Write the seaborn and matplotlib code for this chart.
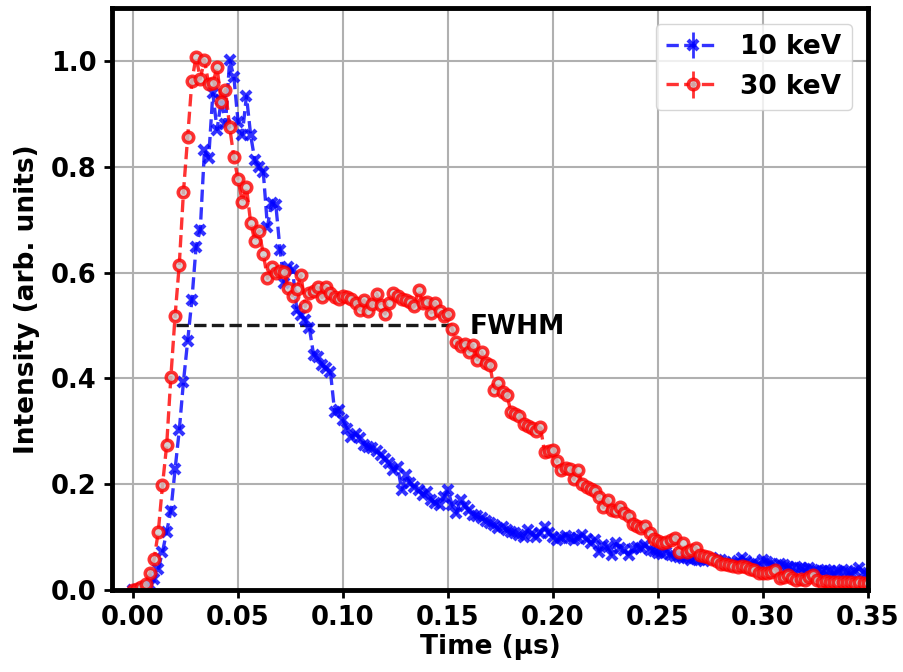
import numpy as np
import matplotlib
matplotlib.use("Agg")
import matplotlib.pyplot as plt
import seaborn as sns

# DATA ===========================================================================================================

time_step_us = 0.002  # sampling interval of the scope traces

intensity_10kev = [
    0.000, 0.000, 0.002, 0.004, 0.010, 0.020, 0.040, 0.072, 0.110, 0.150,
    0.228, 0.302, 0.394, 0.470, 0.548, 0.649, 0.681, 0.832, 0.816, 0.939,
    0.870, 0.926, 0.880, 1.002, 0.970, 0.885, 0.860, 0.934, 0.860, 0.812,
    0.800, 0.791, 0.687, 0.731, 0.728, 0.643, 0.580, 0.611, 0.605, 0.529,
    0.520, 0.510, 0.495, 0.444, 0.440, 0.425, 0.420, 0.413, 0.337, 0.340,
    0.321, 0.305, 0.290, 0.295, 0.287, 0.275, 0.271, 0.268, 0.262, 0.255,
    0.248, 0.240, 0.227, 0.232, 0.189, 0.217, 0.202, 0.195, 0.189, 0.180,
    0.186, 0.170, 0.165, 0.161, 0.175, 0.189, 0.160, 0.145, 0.170, 0.158,
    0.151, 0.142, 0.139, 0.136, 0.130, 0.126, 0.122, 0.117, 0.120, 0.113,
    0.110, 0.107, 0.104, 0.101, 0.113, 0.106, 0.101, 0.108, 0.120, 0.107,
    0.101, 0.095, 0.098, 0.103, 0.098, 0.095, 0.099, 0.104, 0.097, 0.088,
    0.095, 0.072, 0.085, 0.082, 0.066, 0.088, 0.080, 0.075, 0.066, 0.078,
    0.082, 0.079, 0.085, 0.076, 0.073, 0.070, 0.069, 0.071, 0.066, 0.064,
    0.062, 0.060, 0.061, 0.057, 0.059, 0.057, 0.055, 0.058, 0.060, 0.056,
    0.057, 0.053, 0.050, 0.052, 0.055, 0.060, 0.054, 0.050, 0.052, 0.048,
    0.057, 0.053, 0.050, 0.046, 0.050, 0.047, 0.044, 0.041, 0.043, 0.041,
    0.039, 0.042, 0.038, 0.036, 0.035, 0.037, 0.035, 0.033, 0.036, 0.038,
    0.034, 0.032, 0.036, 0.041, 0.033, 0.032,
]

intensity_30kev = [
    0.000, 0.002, 0.005, 0.012, 0.032, 0.058, 0.110, 0.198, 0.274, 0.403,
    0.518, 0.615, 0.753, 0.856, 0.962, 1.008, 0.966, 1.002, 0.956, 0.958,
    0.988, 0.922, 0.946, 0.875, 0.818, 0.776, 0.734, 0.762, 0.694, 0.660,
    0.679, 0.636, 0.589, 0.610, 0.599, 0.603, 0.602, 0.570, 0.556, 0.569,
    0.595, 0.536, 0.561, 0.566, 0.573, 0.553, 0.573, 0.561, 0.554, 0.550,
    0.556, 0.553, 0.551, 0.542, 0.529, 0.548, 0.528, 0.541, 0.560, 0.539,
    0.522, 0.542, 0.561, 0.556, 0.551, 0.549, 0.545, 0.537, 0.568, 0.542,
    0.545, 0.524, 0.543, 0.528, 0.517, 0.522, 0.493, 0.469, 0.461, 0.465,
    0.450, 0.463, 0.435, 0.450, 0.430, 0.425, 0.378, 0.392, 0.375, 0.369,
    0.337, 0.333, 0.329, 0.314, 0.310, 0.306, 0.300, 0.309, 0.261, 0.262,
    0.265, 0.243, 0.227, 0.230, 0.228, 0.209, 0.227, 0.200, 0.195, 0.190,
    0.188, 0.176, 0.156, 0.171, 0.151, 0.150, 0.157, 0.145, 0.139, 0.124,
    0.121, 0.118, 0.121, 0.107, 0.096, 0.092, 0.088, 0.091, 0.094, 0.098,
    0.072, 0.089, 0.072, 0.076, 0.079, 0.066, 0.064, 0.063, 0.058, 0.054,
    0.050, 0.049, 0.047, 0.046, 0.044, 0.045, 0.044, 0.040, 0.038, 0.033,
    0.032, 0.032, 0.034, 0.038, 0.022, 0.025, 0.028, 0.022, 0.019, 0.020,
    0.019, 0.024, 0.028, 0.018, 0.016, 0.017, 0.016, 0.015, 0.016, 0.016,
    0.015, 0.016, 0.014, 0.015, 0.014, 0.013,
]

series_labels = ["10 keV", "30 keV"]
fwhm_start = 0.0205
fwhm_stop = 0.1505
fwhm_level = 0.5

# PLOTTER ========================================================================================================

sns.set_theme(style="whitegrid", rc={
    "grid.color": "#b0b0b0",
    "grid.linewidth": 1.5,
    "axes.edgecolor": "black",
    "axes.linewidth": 3.5,
    "axes.labelcolor": "black",
    "text.color": "black",
    "xtick.bottom": True,
    "ytick.left": True,
    "xtick.major.size": 6,
    "ytick.major.size": 6,
    "xtick.major.width": 2,
    "ytick.major.width": 2,
    "xtick.color": "black",
    "ytick.color": "black",
})
plt.rcParams["font.family"] = ["DejaVu Sans"]
plt.rcParams["font.weight"] = "bold"
plt.rcParams["axes.labelweight"] = "bold"

FS = 19

t_10 = np.round(np.arange(len(intensity_10kev)) * time_step_us, 3)
t_30 = np.round(np.arange(len(intensity_30kev)) * time_step_us, 3)

fig = plt.figure(figsize=(9.04, 6.72), dpi=100)
ax = fig.add_axes([0.124, 0.122, 0.836, 0.866])

ax.errorbar(t_10, intensity_10kev, yerr=0.0, fmt="--x", color="blue", alpha=0.8,
            lw=2.4, ms=7.5, mew=3.0, elinewidth=2, label=series_labels[0])
ax.errorbar(t_30, intensity_30kev, yerr=0.0, fmt="--o", color="red", alpha=0.8,
            lw=2.4, ms=7.5, mew=2.6, mfc="#c8c8c8", mec="red", elinewidth=2,
            label=series_labels[1])

ax.plot([fwhm_start, fwhm_stop], [fwhm_level, fwhm_level], "k--", lw=2.4)
ax.text(0.1605, fwhm_level - 0.003, "FWHM", fontsize=FS, fontweight="bold", va="center", ha="left")

ax.set_xlim(-0.01, 0.35)
ax.set_ylim(0, 1.1)
ax.set_xticks(np.arange(0, 0.351, 0.05))
ax.set_yticks(np.arange(0, 1.01, 0.2))
ax.xaxis.set_major_formatter(matplotlib.ticker.FormatStrFormatter("%.2f"))
ax.yaxis.set_major_formatter(matplotlib.ticker.FormatStrFormatter("%.1f"))
ax.tick_params(labelsize=18.5, pad=5)
for lab in ax.get_xticklabels() + ax.get_yticklabels():
    lab.set_fontweight("bold")

ax.set_xlabel("Time (µs)", fontsize=FS, fontweight="bold", labelpad=2)
ax.set_ylabel("Intensity (arb. units)", fontsize=FS, fontweight="bold", labelpad=8)

leg = ax.legend(loc="upper right", frameon=True, handlelength=2.0,
                borderaxespad=0.6, prop={"weight": "bold", "size": FS})
leg.get_frame().set_edgecolor("#cccccc")

fig.savefig("out.png", dpi=100)
